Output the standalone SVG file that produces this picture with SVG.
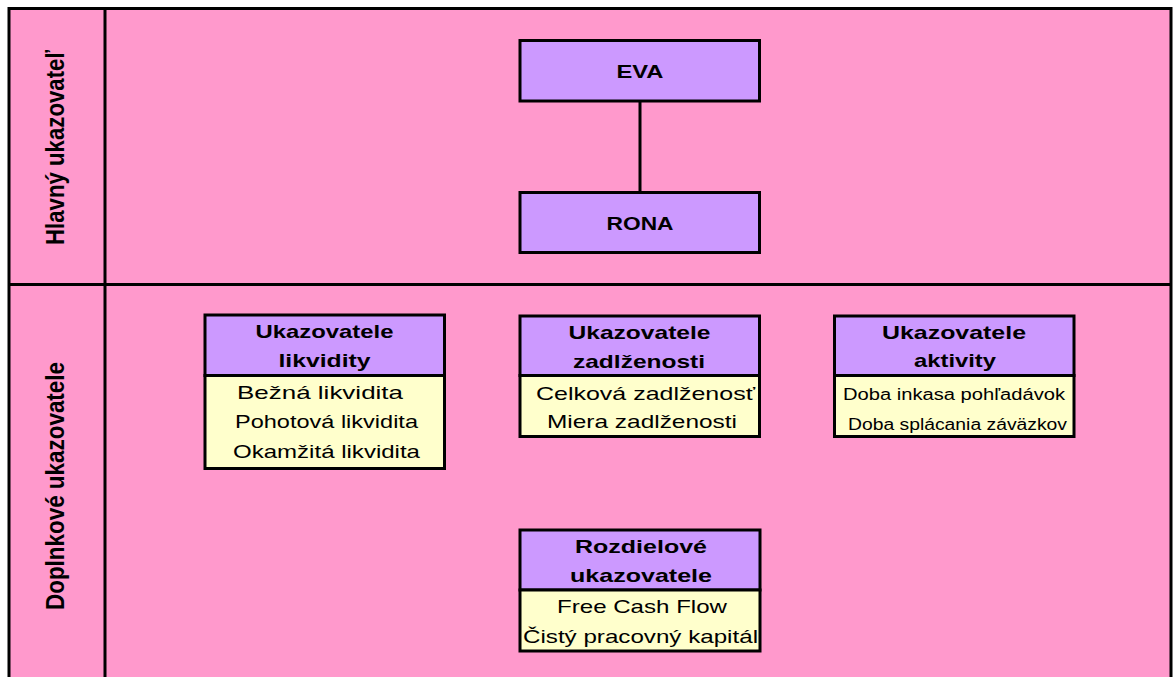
<svg xmlns="http://www.w3.org/2000/svg" width="1174" height="677" viewBox="0 0 1174 677">
<style>
.lane{fill:#FF99CC;stroke:none}
.grid{stroke:#000;stroke-width:3;fill:none}
.hdr{fill:#CC99FF;stroke:#000;stroke-width:3}
.body{fill:#FFFFCC;stroke:#000;stroke-width:3}
.div{stroke:#000;stroke-width:3}
.conn{stroke:#000;stroke-width:3;fill:none}
.t{font-family:"Liberation Sans",Arial,sans-serif;fill:#000;text-anchor:middle}
.b{font-weight:bold;font-size:19px}
.r{font-size:19px}
.s{font-size:16px}
.lbl{font-family:"Liberation Sans Narrow","Liberation Sans",Arial,sans-serif;font-weight:bold;font-size:25px;fill:#000;text-anchor:middle}
</style>
<rect x="0" y="0" width="1174" height="677" fill="#FFFFFF"/>
<g id="lanes">
<rect class="lane" x="9" y="8.5" width="1162" height="670"/>
<path class="grid" d="M9,690 V8.5 H1171 V690 M105,8.5 V690 M9,284.5 H1171"/>
<text class="lbl" transform="translate(64,147.5) rotate(-90)" textLength="195" lengthAdjust="spacingAndGlyphs">Hlavný ukazovateľ</text>
<text class="lbl" transform="translate(64,486) rotate(-90)" textLength="248" lengthAdjust="spacingAndGlyphs">Doplnkové ukazovatele</text>
</g>
<g id="connectors">
<line class="conn" x1="640" y1="101" x2="640" y2="192.5"/>
</g>
<g id="eva">
<rect class="hdr" x="520" y="40.5" width="239.5" height="60.5"/>
<text class="t b" x="640" y="78" textLength="47" lengthAdjust="spacingAndGlyphs">EVA</text>
</g>
<g id="rona">
<rect class="hdr" x="520" y="192.5" width="239.5" height="60"/>
<text class="t b" x="640" y="230" textLength="67" lengthAdjust="spacingAndGlyphs">RONA</text>
</g>
<g id="likvidita">
<rect class="hdr" x="205" y="315" width="239.5" height="60.5"/>
<rect class="body" x="205" y="375.5" width="239.5" height="93"/>
<text class="t b" x="324.5" y="338" textLength="138" lengthAdjust="spacingAndGlyphs">Ukazovatele</text>
<text class="t b" x="324.5" y="367" textLength="92" lengthAdjust="spacingAndGlyphs">likvidity</text>
<text class="t r" x="320" y="399" textLength="166" lengthAdjust="spacingAndGlyphs">Bežná likvidita</text>
<text class="t r" x="326.5" y="428" textLength="183" lengthAdjust="spacingAndGlyphs">Pohotová likvidita</text>
<text class="t r" x="326.5" y="458" textLength="187" lengthAdjust="spacingAndGlyphs">Okamžitá likvidita</text>
</g>
<g id="zadlzenost">
<rect class="hdr" x="520" y="316" width="239.5" height="59.5"/>
<rect class="body" x="520" y="375.5" width="239.5" height="61"/>
<text class="t b" x="639.5" y="339" textLength="142" lengthAdjust="spacingAndGlyphs">Ukazovatele</text>
<text class="t b" x="639" y="368" textLength="132" lengthAdjust="spacingAndGlyphs">zadlženosti</text>
<text class="t r" x="645.5" y="400" textLength="219" lengthAdjust="spacingAndGlyphs">Celková zadlženosť</text>
<text class="t r" x="642" y="428" textLength="190" lengthAdjust="spacingAndGlyphs">Miera zadlženosti</text>
</g>
<g id="aktivita">
<rect class="hdr" x="834.5" y="316" width="239.5" height="59.5"/>
<rect class="body" x="834.5" y="375.5" width="239.5" height="61"/>
<text class="t b" x="954" y="339" textLength="144" lengthAdjust="spacingAndGlyphs">Ukazovatele</text>
<text class="t b" x="955" y="367" textLength="82" lengthAdjust="spacingAndGlyphs">aktivity</text>
<text class="t s" x="954" y="400" textLength="222" lengthAdjust="spacingAndGlyphs">Doba inkasa pohľadávok</text>
<text class="t s" x="957.5" y="430" font-size="14" textLength="219" lengthAdjust="spacingAndGlyphs">Doba splácania záväzkov</text>
</g>
<g id="rozdielove">
<rect class="hdr" x="520" y="530" width="240" height="60"/>
<rect class="body" x="520" y="590" width="240" height="61"/>
<text class="t b" x="641" y="553" textLength="132" lengthAdjust="spacingAndGlyphs">Rozdielové</text>
<text class="t b" x="641" y="582" textLength="142" lengthAdjust="spacingAndGlyphs">ukazovatele</text>
<text class="t r" x="642" y="613" textLength="170" lengthAdjust="spacingAndGlyphs">Free Cash Flow</text>
<text class="t r" x="640.5" y="643" textLength="235" lengthAdjust="spacingAndGlyphs">Čistý pracovný kapitál</text>
</g>
</svg>
